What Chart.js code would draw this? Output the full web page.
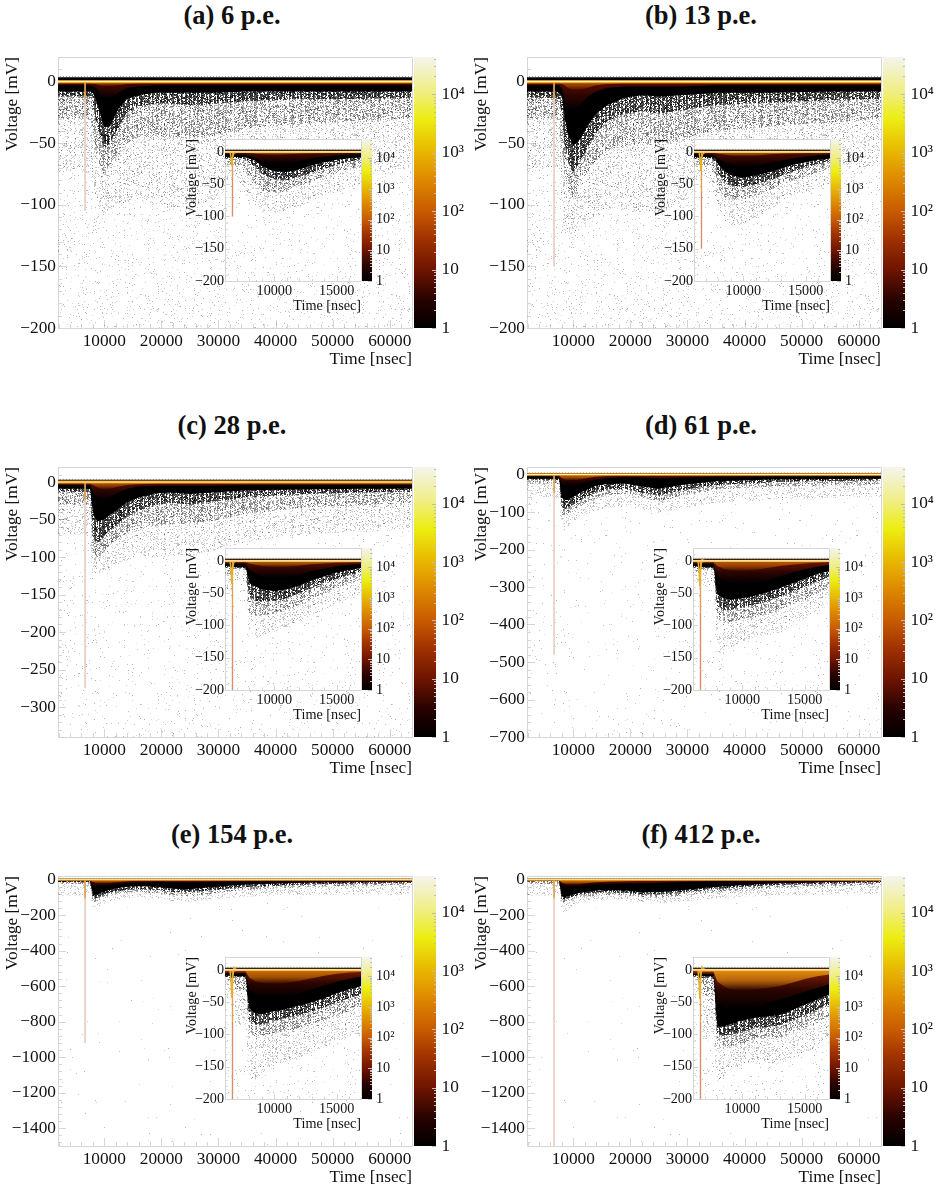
<!DOCTYPE html>
<html lang="en">
<head>
<meta charset="UTF-8">
<title>Waveform maps</title>
<script src="https://cdn.jsdelivr.net/npm/chart.js"></script>
<style>
    html, body { margin: 0; background: #fff; }
    #page { position: relative; width: 940px; height: 1192px; overflow: hidden; background: #fff; }
    #page canvas { position: absolute; }
    .title { position: absolute; width: 300px; text-align: center; font: bold 26.5px "Liberation Serif", serif; color: #111; }
</style>
</head>
<body>
<div id="page"></div>
<script>
// time grids, nsec
const mainTime = [1700, 6000, 6500, 7000, 7500, 8000, 8500, 9000, 10000, 11000, 12500, 14000, 16000, 19000, 22000, 25000, 29000, 35000, 45000, 55000, 64000];
const insetTime = [6000, 6400, 6600, 6800, 7000, 7400, 7700, 8000, 8500, 9000, 10000, 11000, 12000, 13000, 14000, 15000, 16000, 17000];

// tick labels
const mainXTicks = [10000, 20000, 30000, 40000, 50000, 60000];
const insetXTicks = [10000, 15000];
const insetYTicks = [-200, -150, -100, -50, 0];
const yTicksAB = [-200, -150, -100, -50, 0];
const yTicksC = [-300, -250, -200, -150, -100, -50, 0];
const yTicksD = [-700, -600, -500, -400, -300, -200, -100, 0];
const yTicksEF = [-1400, -1200, -1000, -800, -600, -400, -200, 0];
const cbarTicks = [1, 10, 100, 1000, 10000];
const cbarLabels = ['1', '10', '10²', '10³', '10⁴'];
const cbarTop = 43000;

// depth of each occupancy band along mainTime, mV
const aEmber = [-1.5, -1.5, -1.5, -1.5, -1.5, -2, -2, -3, -4, -4, -3, -2, -1.5, -1.5, -1.5, -1.5, -1.5, -1.5, -1.5, -1.5, -1.5];
const aMaroon = [-3, -3, -3, -3, -3, -4, -5, -8, -14, -14, -9, -5, -4, -3, -3, -3, -3, -3, -3, -3, -3];
const aBlack = [-8, -8, -8, -8, -8, -9, -14, -22, -37, -36, -22, -14, -11, -9, -9, -9, -9, -8, -8, -8, -8];
const aHeavy = [-12, -12, -12, -12, -12, -16, -30, -40, -54, -50, -38, -25, -20, -18, -18, -19, -18, -16, -14, -14, -13];
const aMedium = [-30, -30, -30, -30, -32, -40, -54, -66, -76, -68, -58, -50, -45, -44, -46, -46, -44, -38, -34, -32, -30];
const aLight = [-72, -72, -74, -74, -76, -82, -92, -102, -108, -104, -100, -98, -98, -100, -102, -102, -96, -86, -76, -74, -70];

const bEmber = [-1.5, -1.5, -1.5, -1.5, -1.5, -2, -3, -5, -7, -7, -5, -3, -2, -1.5, -1.5, -1.5, -1.5, -1.5, -1.5, -1.5, -1.5];
const bMaroon = [-3, -3, -3, -3, -3, -5, -14, -22, -24, -20, -12, -8, -5, -4, -4, -4, -4, -3, -3, -3, -3];
const bBlack = [-8, -8, -8, -8, -9, -12, -28, -42, -52, -48, -36, -26, -19, -13, -11, -12, -11, -9, -9, -8, -8];
const bHeavy = [-13, -13, -13, -13, -15, -26, -50, -64, -74, -66, -54, -42, -32, -26, -24, -26, -23, -19, -17, -15, -14];
const bMedium = [-30, -30, -30, -30, -34, -54, -76, -88, -94, -84, -74, -64, -56, -52, -50, -50, -46, -40, -36, -33, -30];
const bLight = [-70, -70, -70, -70, -76, -96, -114, -124, -130, -122, -114, -108, -104, -104, -106, -106, -98, -86, -76, -72, -68];

const cEmber = [-2, -2, -2, -2, -2, -4, -6, -8, -10, -9, -6, -4, -3, -2, -2, -2, -2, -2, -2, -2, -2];
const cMaroon = [-4, -4, -4, -4, -4, -12, -18, -20, -24, -20, -14, -9, -6, -5, -5, -5, -5, -4, -4, -4, -4];
const cBlack = [-9, -9, -9, -9, -9, -40, -50, -52, -50, -44, -36, -27, -21, -15, -14, -16, -14, -11, -10, -9, -9];
const cHeavy = [-13, -13, -13, -13, -13, -70, -80, -80, -72, -64, -56, -46, -38, -30, -28, -30, -26, -20, -16, -14, -13];
const cMedium = [-30, -30, -30, -30, -30, -95, -100, -100, -92, -84, -76, -68, -62, -58, -56, -56, -52, -42, -34, -31, -28];
const cLight = [-70, -70, -70, -70, -72, -125, -125, -122, -118, -114, -108, -104, -100, -100, -100, -98, -92, -80, -70, -66, -62];

const dEmber = [-3, -3, -3, -3, -3, -10, -14, -16, -16, -14, -9, -6, -4, -3, -3, -4, -3, -3, -3, -3, -3];
const dMaroon = [-5, -5, -5, -5, -6, -22, -30, -32, -32, -28, -20, -13, -9, -7, -8, -10, -8, -6, -5, -5, -5];
const dBlack = [-11, -11, -11, -11, -11, -62, -68, -68, -60, -50, -40, -30, -25, -24, -32, -38, -28, -18, -13, -12, -11];
const dHeavy = [-14, -14, -14, -14, -16, -85, -92, -90, -80, -70, -58, -48, -40, -38, -48, -56, -42, -28, -20, -17, -15];
const dMedium = [-24, -24, -24, -24, -28, -105, -112, -108, -96, -85, -74, -64, -55, -52, -62, -72, -56, -40, -32, -29, -26];
const dLight = [-60, -60, -60, -60, -65, -130, -150, -140, -125, -114, -104, -96, -88, -84, -94, -102, -90, -76, -66, -62, -60];

const eEmber = [-4, -4, -4, -4, -4, -14, -20, -24, -24, -20, -14, -10, -7, -5, -5, -6, -5, -4, -4, -4, -4];
const eMaroon = [-7, -7, -7, -7, -7, -34, -42, -44, -40, -34, -26, -20, -16, -13, -14, -16, -12, -9, -7, -7, -7];
const eBlack = [-10, -10, -10, -10, -10, -80, -85, -80, -68, -58, -48, -40, -38, -40, -52, -55, -42, -28, -18, -14, -12];
const eHeavy = [-14, -14, -14, -14, -14, -100, -105, -100, -85, -75, -65, -57, -54, -58, -70, -72, -60, -42, -28, -22, -18];
const eMedium = [-25, -25, -25, -25, -25, -120, -125, -118, -105, -92, -82, -74, -70, -74, -88, -92, -78, -58, -40, -34, -30];
const eLight = [-90, -90, -90, -90, -90, -160, -165, -155, -135, -122, -112, -104, -100, -104, -120, -125, -112, -95, -85, -85, -85];

const fEmber = [-4, -4, -4, -4, -4, -16, -24, -30, -30, -26, -20, -15, -12, -9, -8, -8, -6, -5, -4, -4, -4];
const fMaroon = [-6, -6, -6, -6, -6, -30, -45, -50, -48, -40, -32, -28, -25, -22, -22, -18, -12, -8, -6, -5, -5];
const fBlack = [-6, -6, -6, -6, -6, -95, -100, -96, -85, -75, -68, -62, -60, -62, -72, -72, -60, -40, -22, -14, -10];
const fHeavy = [-10, -10, -10, -10, -10, -110, -112, -108, -95, -85, -80, -74, -72, -74, -84, -86, -72, -52, -32, -22, -16];
const fMedium = [-25, -25, -25, -25, -25, -130, -135, -125, -112, -100, -95, -88, -85, -90, -100, -102, -90, -70, -48, -36, -28];
const fLight = [-90, -90, -90, -90, -90, -175, -185, -170, -145, -132, -124, -116, -114, -120, -132, -135, -124, -105, -90, -85, -80];

// same bands for the zoomed views, along insetTime
const aiEmber = [-1.5, -1.5, -2, -1.5, -1.5, -1.5, -1.5, -2, -3, -4, -5, -4, -3, -2.5, -2, -2, -1.5, -1.5];
const aiMaroon = [-3, -3, -3, -4, -4, -4, -4, -6, -9, -14, -18, -18, -14, -10, -7, -5, -4, -3];
const aiBlack = [-8, -8, -8, -8, -8, -8, -8, -10, -14, -22, -30, -31, -27, -21, -16, -12, -10, -8];
const aiHeavy = [-10, -10, -10, -10, -10, -10, -12, -16, -24, -34, -42, -44, -38, -32, -26, -20, -15, -12];
const aiMedium = [-20, -20, -20, -20, -20, -20, -28, -38, -50, -60, -64, -60, -52, -46, -38, -32, -26, -24];
const aiLight = [-42, -42, -42, -42, -42, -50, -60, -72, -82, -92, -95, -92, -85, -76, -68, -62, -55, -50];

const biEmber = [-1.5, -1.5, -2, -1.5, -1.5, -1.5, -1.5, -3, -4, -6, -7, -6, -4, -3, -2.5, -2, -2, -1.5];
const biMaroon = [-3, -3, -3, -4, -4, -4, -5, -10, -16, -20, -24, -22, -18, -14, -10, -7, -5, -4];
const biBlack = [-8, -8, -8, -8, -8, -8, -10, -20, -30, -36, -40, -36, -32, -26, -20, -16, -12, -10];
const biHeavy = [-10, -10, -10, -10, -10, -10, -16, -34, -46, -52, -54, -50, -44, -38, -30, -24, -18, -14];
const biMedium = [-20, -20, -20, -20, -20, -20, -34, -58, -70, -74, -74, -68, -60, -52, -44, -38, -32, -26];
const biLight = [-40, -40, -40, -40, -40, -42, -65, -88, -105, -115, -112, -100, -90, -80, -70, -62, -55, -50];

const ciEmber = [-2, -2, -3, -2, -2, -2, -2, -4, -6, -8, -10, -9, -7, -5, -4, -3, -2.5, -2];
const ciMaroon = [-4, -4, -4, -4, -4, -4, -4, -14, -20, -24, -27, -26, -22, -16, -12, -8, -6, -5];
const ciBlack = [-8, -8, -10, -10, -10, -10, -10, -34, -40, -44, -47, -44, -38, -30, -24, -18, -14, -11];
const ciHeavy = [-10, -10, -10, -11, -11, -11, -12, -55, -62, -62, -62, -58, -50, -42, -34, -28, -22, -16];
const ciMedium = [-22, -22, -22, -13, -13, -13, -15, -80, -85, -84, -82, -76, -68, -60, -50, -42, -36, -28];
const ciLight = [-44, -44, -44, -30, -30, -30, -30, -110, -120, -115, -108, -102, -95, -85, -75, -68, -58, -50];

const diEmber = [-2, -2, -4, -3, -2, -2, -2, -8, -12, -14, -16, -14, -11, -8, -6, -4, -3, -2];
const diMaroon = [-4, -4, -4, -4, -4, -4, -4, -22, -30, -34, -36, -34, -30, -24, -18, -13, -9, -6];
const diBlack = [-8, -8, -10, -10, -10, -10, -10, -52, -58, -60, -58, -54, -48, -42, -35, -28, -20, -16];
const diHeavy = [-10, -10, -12, -11, -11, -11, -12, -70, -76, -76, -72, -68, -62, -55, -48, -40, -32, -25];
const diMedium = [-18, -18, -18, -14, -14, -14, -15, -88, -96, -95, -90, -86, -82, -76, -68, -60, -50, -42];
const diLight = [-35, -35, -35, -40, -40, -40, -40, -140, -145, -135, -125, -118, -115, -112, -100, -90, -78, -68];

const eiEmber = [-2, -2, -5, -3, -2, -2, -2, -12, -18, -20, -22, -20, -17, -13, -9, -6, -4, -3];
const eiMaroon = [-5, -5, -5, -5, -5, -5, -5, -30, -38, -42, -42, -40, -36, -30, -24, -18, -14, -10];
const eiBlack = [-9, -9, -12, -10, -10, -10, -10, -60, -68, -68, -64, -60, -55, -50, -44, -36, -30, -25];
const eiHeavy = [-11, -11, -13, -11, -11, -11, -12, -76, -85, -84, -78, -74, -70, -64, -58, -50, -44, -38];
const eiMedium = [-18, -18, -18, -30, -30, -30, -30, -98, -104, -102, -98, -94, -90, -85, -78, -70, -64, -58];
const eiLight = [-40, -40, -35, -85, -85, -85, -85, -165, -170, -160, -148, -142, -138, -130, -120, -112, -105, -98];

const fiEmber = [-2, -2, -6, -3, -3, -3, -3, -18, -25, -30, -32, -30, -28, -25, -20, -14, -10, -7];
const fiMaroon = [-6, -6, -6, -6, -6, -6, -6, -50, -58, -62, -62, -58, -52, -46, -40, -34, -28, -22];
const fiBlack = [-8, -8, -12, -10, -10, -10, -10, -88, -88, -84, -78, -74, -72, -70, -62, -54, -46, -38];
const fiHeavy = [-10, -10, -14, -12, -12, -12, -14, -100, -102, -100, -96, -90, -88, -86, -78, -70, -62, -54];
const fiMedium = [-15, -15, -18, -40, -40, -40, -40, -115, -118, -118, -115, -108, -105, -105, -98, -90, -80, -72];
const fiLight = [-40, -40, -35, -110, -110, -110, -110, -175, -165, -155, -148, -142, -145, -145, -138, -130, -118, -105];

// after-pulse ringing right behind the prompt spike
const ringTime = [6450, 6530, 6600, 6660, 6760, 6900, 7100];
const aRing = [0, -8, -22, -8, -2, -1, 0];
const bRing = [0, -10, -30, -10, -3, -1, 0];
const cRing = [0, -12, -36, -12, -2, 0, 0];
const dRing = [0, -14, -40, -14, 2, 1, 0];
const eRing = [0, -18, -42, -14, 4, 1, 0];
const fRing = [0, -20, -45, -15, 5, 2, -1];

const spikeTime = 6640;
const insetSpikeTime = 6650;

// stipple tiles for the sparsely filled regions
function stipple(density, alphaLow, alphaHigh) {
    const tile = document.createElement('canvas');
    tile.width = 251;
    tile.height = 241;
    const g = tile.getContext('2d');
    for (let x = 0; x < tile.width; x++) {
        const mixCol = Math.imul(x + 17, 2654435761) >>> 0;
        const streak = 0.45 + 1.1 * ((mixCol >>> 8) % 1000) / 1000;
        for (let y = 0; y < tile.height; y++) {
            let h = Math.imul(x * 374761 + y * 668265 + 12345, 2246822519);
            h = Math.imul(h ^ (h >>> 13), 3266489917);
            h = (h ^ (h >>> 16)) >>> 0;
            if (h % 10000 < density * streak * 10000) {
                g.fillStyle = 'rgba(0,0,0,' + (alphaLow + (alphaHigh - alphaLow) * ((h >>> 14) % 100) / 100) + ')';
                g.fillRect(x, y, 1, 1);
            }
        }
    }
    return g.createPattern(tile, 'repeat');
}
const heavyFill = stipple(0.75, 0.45, 0.9);
const mediumFill = stipple(0.45, 0.18, 0.5);
const lightFill = stipple(0.2, 0.1, 0.3);

function xy(times, values) {
    return times.map((t, i) => ({ x: t, y: values[i] }));
}

function area(times, values, fillStyle, target) {
    return {
        data: xy(times, values), backgroundColor: fillStyle, borderWidth: 0,
        pointRadius: 0, tension: 0, fill: { target: { value: target } }
    };
}

function stroke(points, color, width, dash) {
    return {
        data: points, borderColor: color, borderWidth: width, borderDash: dash || [],
        pointRadius: 0, tension: 0, fill: false
    };
}

// colour fades with depth, anchored to the deepest value of the band
function depthFill(values, stops) {
    const deepest = Math.min(...values);
    return (ctx) => {
        const y = ctx.chart.scales.y;
        const top = y ? y.getPixelForValue(0) : NaN;
        const bottom = y ? y.getPixelForValue(deepest) : NaN;
        if (!isFinite(top) || !isFinite(bottom)) return stops[0];
        const g = ctx.chart.ctx.createLinearGradient(0, top, 0, bottom);
        stops.forEach((c, i) => g.addColorStop(i / (stops.length - 1), c));
        return g;
    };
}

// the layout reserves half a label at the axis ends, the frames here sit on fixed pixels
function noEndPadding(sc) {
    sc.paddingTop = 0;
    sc.paddingBottom = 0;
    sc.paddingLeft = 0;
    sc.paddingRight = 0;
}

// frame and inward ticks
const frameTicks = {
    id: 'frameTicks',
    beforeDatasetsDraw(chart, args, opts) {
        const { ctx, chartArea: a, scales } = chart;
        ctx.save();
        ctx.strokeStyle = '#d6d6d6';
        ctx.lineWidth = 1;
        ctx.beginPath();
        const xs = scales.x, ys = scales.y;
        for (let v = Math.ceil(xs.min / opts.xStep) * opts.xStep; v <= xs.max; v += opts.xStep) {
            const major = v % (opts.xStep * 5) === 0;
            const px = Math.round(xs.getPixelForValue(v)) + 0.5;
            ctx.moveTo(px, a.bottom);
            ctx.lineTo(px, a.bottom - (major ? opts.major : opts.minor));
        }
        for (let v = Math.ceil(ys.min / opts.yStep) * opts.yStep; v <= ys.max; v += opts.yStep) {
            const major = v % (opts.yStep * 5) === 0;
            const py = Math.round(ys.getPixelForValue(v)) + 0.5;
            ctx.moveTo(a.left, py);
            ctx.lineTo(a.left + (major ? opts.major : opts.minor), py);
        }
        ctx.rect(a.left + 0.5, a.top + 0.5, a.right - a.left, a.bottom - a.top);
        ctx.stroke();
        ctx.restore();
    }
};

const whitePlot = {
    id: 'whitePlot',
    beforeDraw(chart) {
        const { ctx, chartArea: a } = chart;
        ctx.save();
        ctx.fillStyle = '#fff';
        ctx.fillRect(a.left, a.top, a.right - a.left, a.bottom - a.top);
        ctx.restore();
    }
};

// decade ticks on the right edge of a colour scale
const barTicks = {
    id: 'barTicks',
    afterDatasetsDraw(chart) {
        const { ctx, chartArea: a, scales } = chart;
        ctx.save();
        ctx.strokeStyle = '#bdbdbd';
        ctx.lineWidth = 1;
        ctx.beginPath();
        for (let d = 1; d < cbarTop; d *= 10) {
            for (let m = 1; m < 10 && d * m < cbarTop; m++) {
                const py = Math.round(scales.y.getPixelForValue(d * m)) + 0.5;
                ctx.moveTo(a.right, py);
                ctx.lineTo(a.right - (m === 1 ? 4 : 2), py);
            }
        }
        ctx.stroke();
        ctx.restore();
    }
};

const page = document.getElementById('page');

function addCanvas(left, top, w, h) {
    const c = document.createElement('canvas');
    c.width = w;
    c.height = h;
    c.style.left = left + 'px';
    c.style.top = top + 'px';
    c.style.width = w + 'px';
    c.style.height = h + 'px';
    page.appendChild(c);
    return c;
}

function drawPlot(p) {
    const [l, t, r, b] = p.box;
    const s = p.style;
    const pad = 4;
    const canvas = addCanvas(l - s.axisW, t - pad, r - l + s.axisW + pad, b - t + pad + s.axisH);
    const first = p.times[0];
    const last = p.times[p.times.length - 1];
    const ds = [
        stroke([{ x: first, y: 0 }, { x: last, y: 0 }], '#fff6c8', s.glow[1]),
        stroke([{ x: first, y: 0 }, { x: last, y: 0 }], '#e8920f', s.glow[0])
    ];
    if (p.ring) ds.push(stroke(xy(ringTime, p.ring), '#e8b020', 1.4));
    ds.push(
        stroke([{ x: p.spikeAt, y: 0 }, { x: p.spikeAt, y: p.spikeTop }], '#e0a050', s.spikeW),
        stroke([{ x: p.spikeAt, y: p.spikeTop }, { x: p.spikeAt, y: p.spikeEnd }], s.spikeColor, s.spikeW),
        stroke([{ x: first, y: p.top }, { x: last, y: p.top }], '#777', 1, [1, 2]),
        area(p.times, p.ember, depthFill(p.ember, [p.emberColor, p.emberColor + 'aa', p.emberColor + '00']), 0),
        area(p.times, p.maroon, depthFill(p.maroon, [p.maroonColor, '#2a0400', '#000000']), 0),
        area(p.times, p.black, '#000', p.top - 0.5),
        area(p.times, p.heavy, heavyFill, 0),
        area(p.times, p.medium, mediumFill, 0),
        area(p.times, p.light, lightFill, 0),
        area([first, last], [p.yMin, p.yMin], stipple(p.sparse, 0.12, 0.32), 0)
    );
    const tickFont = { family: '"Liberation Serif"', size: s.font };
    const titleFont = { family: '"Liberation Serif"', size: s.font, lineHeight: 1 };
    new Chart(canvas, {
        type: 'line',
        data: { datasets: ds },
        plugins: s.white ? [whitePlot, frameTicks] : [frameTicks],
        options: {
            responsive: false,
            animation: false,
            events: [],
            layout: { padding: { top: pad, right: pad, left: 0, bottom: 0 } },
            plugins: {
                legend: { display: false },
                tooltip: { enabled: false },
                frameTicks: { xStep: p.xStep, yStep: p.yStep, major: s.major, minor: s.minor }
            },
            scales: {
                x: {
                    type: 'linear', min: p.xMin, max: p.xMax,
                    grid: { display: false, drawTicks: false }, border: { display: false },
                    afterBuildTicks: (sc) => { sc.ticks = p.xTicks.map((v) => ({ value: v })); },
                    afterFit: (sc) => { sc.height = s.axisH; noEndPadding(sc); },
                    ticks: { font: tickFont, color: '#111', padding: s.xPad, maxRotation: 0, autoSkip: false, callback: (v) => String(v) },
                    title: { display: true, text: 'Time [nsec]', align: 'end', font: titleFont, color: '#111', padding: 0 }
                },
                y: {
                    type: 'linear', min: p.yMin, max: p.yMax,
                    grid: { display: false, drawTicks: false }, border: { display: false },
                    afterBuildTicks: (sc) => { sc.ticks = p.yTicks.map((v) => ({ value: v })); },
                    afterFit: (sc) => { sc.width = s.axisW; noEndPadding(sc); },
                    ticks: { font: tickFont, color: '#111', padding: s.yPad, autoSkip: false, callback: (v) => String(v).replace('-', '−') },
                    title: { display: true, text: 'Voltage [mV]', align: 'end', font: titleFont, color: '#111', padding: 0 }
                }
            }
        }
    });
}

function drawColorbar(left, top, barW, h, labelW, fontSize, pad) {
    const canvas = addCanvas(left, top - 8, barW + labelW, h + 16);
    new Chart(canvas, {
        type: 'bar',
        data: {
            labels: ['z'],
            datasets: [{
                data: [[1, cbarTop]],
                barPercentage: 1,
                categoryPercentage: 1,
                backgroundColor: (ctx) => {
                    const a = ctx.chart.chartArea;
                    if (!a) return '#000';
                    const g = ctx.chart.ctx.createLinearGradient(0, a.bottom, 0, a.top);
                    g.addColorStop(0, '#000000');
                    g.addColorStop(0.1, '#250200');
                    g.addColorStop(0.215, '#6e1400');
                    g.addColorStop(0.33, '#a03200');
                    g.addColorStop(0.43, '#c85a00');
                    g.addColorStop(0.55, '#de8a00');
                    g.addColorStop(0.645, '#e8b400');
                    g.addColorStop(0.77, '#eced10');
                    g.addColorStop(0.87, '#f0ee80');
                    g.addColorStop(1, '#f4f4ee');
                    return g;
                }
            }]
        },
        plugins: [barTicks],
        options: {
            responsive: false,
            animation: false,
            events: [],
            layout: { padding: { top: 8, bottom: 8, left: 0, right: 0 } },
            plugins: { legend: { display: false }, tooltip: { enabled: false } },
            scales: {
                x: { display: false },
                y: {
                    type: 'logarithmic', position: 'right', min: 1, max: cbarTop,
                    grid: { display: false, drawTicks: false }, border: { display: false },
                    afterBuildTicks: (sc) => { sc.ticks = cbarTicks.map((v) => ({ value: v })); },
                    afterFit: (sc) => { sc.width = labelW; noEndPadding(sc); },
                    ticks: {
                        font: { family: '"Liberation Serif"', size: fontSize }, color: '#111', padding: pad,
                        autoSkip: false, callback: (v, i) => cbarLabels[i]
                    }
                }
            }
        }
    });
}

const mainStyle = (glow) => ({ font: 17.3, axisW: 54, axisH: 40, xPad: 3, yPad: 2, major: 8, minor: 4, glow, spikeW: 1, spikeColor: '#e6d0c2', white: false });
const insetStyle = { font: 14.2, axisW: 40, axisH: 32, xPad: 2, yPad: 1, major: 5, minor: 2.5, glow: [2.4, 1.1], spikeW: 1.4, spikeColor: '#d98f68', white: true };

const panels = [
    { title: '(a) 6 p.e.', titleTop: -3, box: [58, 57, 412, 328], inset: [225, 139, 361, 281], yMin: -200, yMax: 20, yTicks: yTicksAB, yStep: 10, spikeEnd: -105, sparse: 0.04, glow: [3.4, 1.4], top: 4,
      band: [aEmber, aMaroon, aBlack, aHeavy, aMedium, aLight], ember: '#a04c00', maroon: '#4a0a00',
      iband: [aiEmber, aiMaroon, aiBlack, aiHeavy, aiMedium, aiLight], iember: '#b06000', imaroon: '#4e0c00', ring: aRing, iSpike: -100, iSparse: 0.025 },
    { title: '(b) 13 p.e.', titleTop: -3, box: [527, 57, 881, 328], inset: [694, 139, 830, 281], yMin: -200, yMax: 20, yTicks: yTicksAB, yStep: 10, spikeEnd: -150, sparse: 0.04, glow: [3.4, 1.4], top: 4,
      band: [bEmber, bMaroon, bBlack, bHeavy, bMedium, bLight], ember: '#a85000', maroon: '#5a0e00',
      iband: [biEmber, biMaroon, biBlack, biHeavy, biMedium, biLight], iember: '#b06000', imaroon: '#5a0e00', ring: bRing, iSpike: -150, iSparse: 0.025 },
    { title: '(c) 28 p.e.', titleTop: 407, box: [58, 467, 412, 737], inset: [225, 548, 361, 690], yMin: -340, yMax: 20, yTicks: yTicksC, yStep: 10, spikeEnd: -275, sparse: 0.02, glow: [3, 1.2], top: 3.5,
      band: [cEmber, cMaroon, cBlack, cHeavy, cMedium, cLight], ember: '#b05800', maroon: '#5e1000',
      iband: [ciEmber, ciMaroon, ciBlack, ciHeavy, ciMedium, ciLight], iember: '#b86400', imaroon: '#641200', ring: cRing, iSpike: -200, iSparse: 0.02 },
    { title: '(d) 61 p.e.', titleTop: 407, box: [527, 467, 881, 737], inset: [693, 548, 829, 690], yMin: -700, yMax: 20, yTicks: yTicksD, yStep: 20, spikeEnd: -480, sparse: 0.008, glow: [2.6, 1], top: 4,
      band: [dEmber, dMaroon, dBlack, dHeavy, dMedium, dLight], ember: '#c86800', maroon: '#641200',
      iband: [diEmber, diMaroon, diBlack, diHeavy, diMedium, diLight], iember: '#b85a00', imaroon: '#701400', ring: dRing, iSpike: -200, iSparse: 0.015 },
    { title: '(e) 154 p.e.', titleTop: 816, box: [58, 876, 412, 1146], inset: [225, 957, 361, 1099], yMin: -1500, yMax: 20, yTicks: yTicksEF, yStep: 40, spikeEnd: -920, sparse: 0.002, glow: [2.2, 0.8], top: 5,
      band: [eEmber, eMaroon, eBlack, eHeavy, eMedium, eLight], ember: '#c86800', maroon: '#641200',
      iband: [eiEmber, eiMaroon, eiBlack, eiHeavy, eiMedium, eiLight], iember: '#c87000', imaroon: '#7a1c00', ring: eRing, iSpike: -200, iSparse: 0.02 },
    { title: '(f) 412 p.e.', titleTop: 816, box: [527, 876, 881, 1146], inset: [693, 957, 829, 1099], yMin: -1500, yMax: 20, yTicks: yTicksEF, yStep: 40, spikeEnd: -1500, sparse: 0.0015, glow: [2.2, 0.8], top: 5,
      band: [fEmber, fMaroon, fBlack, fHeavy, fMedium, fLight], ember: '#d87c00', maroon: '#701600',
      iband: [fiEmber, fiMaroon, fiBlack, fiHeavy, fiMedium, fiLight], iember: '#e08c10', imaroon: '#8a2200', ring: fRing, iSpike: -200, iSparse: 0.025 }
];

panels.forEach((p) => {
    const [l, t, r, b] = p.box;
    const head = document.createElement('div');
    head.className = 'title';
    head.textContent = p.title;
    head.style.left = (l + (r - l) / 2 - 3 - 150) + 'px';
    head.style.top = (p.titleTop + 3) + 'px';
    page.appendChild(head);

    drawPlot({
        box: p.box, style: mainStyle(p.glow), times: mainTime, xMin: 1900, xMax: 63900, xTicks: mainXTicks, xStep: 2000,
        yMin: p.yMin, yMax: p.yMax, yTicks: p.yTicks, yStep: p.yStep, top: p.top, sparse: p.sparse,
        spikeAt: spikeTime, spikeTop: p.yMin * 0.07, spikeEnd: p.spikeEnd, emberColor: p.ember, maroonColor: p.maroon,
        ember: p.band[0], maroon: p.band[1], black: p.band[2], heavy: p.band[3], medium: p.band[4], light: p.band[5]
    });
    drawColorbar(r + 2, t, 22, b - t, 38, 17.3, 5.5);

    const [il, it, ir, ib] = p.inset;
    drawPlot({
        box: p.inset, style: insetStyle, times: insetTime, xMin: 6050, xMax: 16950, xTicks: insetXTicks, xStep: 1000,
        yMin: -200, yMax: 20, yTicks: insetYTicks, yStep: 10, top: 4, sparse: p.iSparse, ring: p.ring,
        spikeAt: insetSpikeTime, spikeTop: p.iSpike * 0.4, spikeEnd: p.iSpike, emberColor: p.iember, maroonColor: p.imaroon,
        ember: p.iband[0], maroon: p.iband[1], black: p.iband[2], heavy: p.iband[3], medium: p.iband[4], light: p.iband[5]
    });
    drawColorbar(ir + 1, it, 10, ib - it, 30, 14.2, 4);
});
</script>
</body>
</html>
